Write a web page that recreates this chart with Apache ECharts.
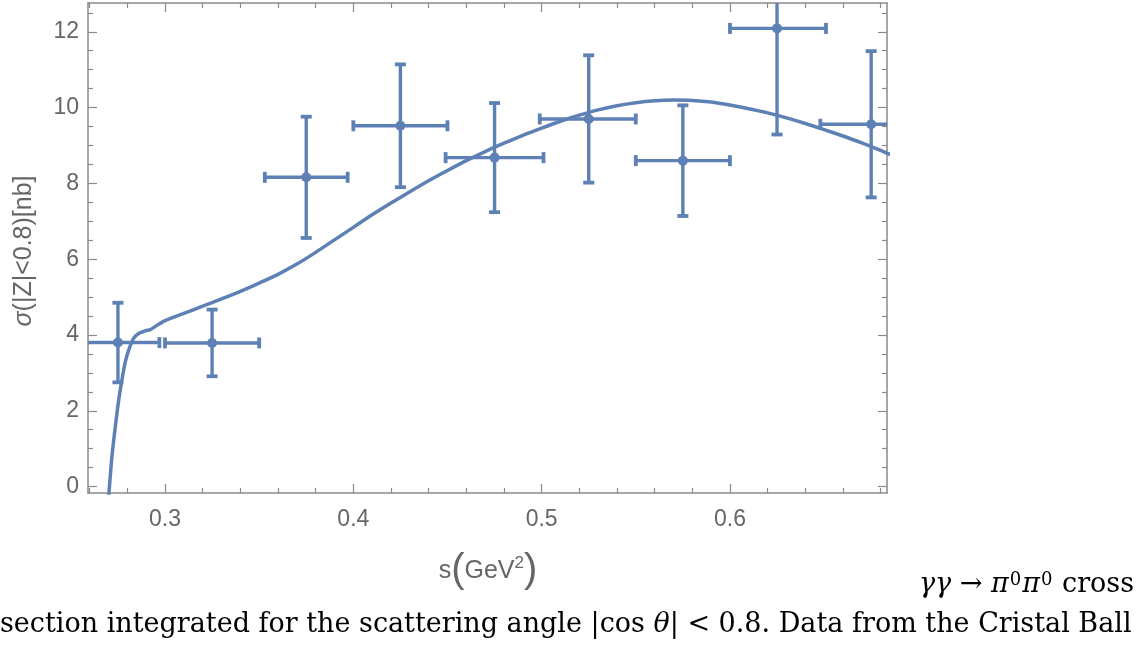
<!DOCTYPE html>
<html>
<head>
<meta charset="utf-8">
<script src="https://cdn.jsdelivr.net/npm/echarts@6/dist/echarts.min.js"></script>
<style>
html, body { margin: 0; padding: 0; background: #fff; }
#chart { width: 1146px; height: 649px; }
</style>
</head>
<body>
<div id="chart"></div>
<script>
// 实验数据点 (Crystal Ball)
const sValues = [0.275, 0.325, 0.375, 0.425, 0.475, 0.525, 0.575, 0.625, 0.675];
const sigmaValues = [3.80, 3.79, 8.16, 9.52, 8.68, 9.70, 8.60, 12.09, 9.56];
const sigmaErrors = [1.05, 0.88, 1.60, 1.62, 1.44, 1.68, 1.46, 2.80, 1.93];
const sErrLow = [0.025, 0.025, 0.022, 0.025, 0.026, 0.026, 0.025, 0.025, 0.027];
const sErrHigh = [0.022, 0.025, 0.022, 0.025, 0.026, 0.025, 0.025, 0.026, 0.025];

// 理论曲线
const curveS = [0.2695, 0.2702, 0.2718, 0.2736, 0.2754, 0.2771, 0.2789, 0.2807, 0.2833, 0.286,
    0.2895, 0.2922, 0.295, 0.30, 0.31, 0.32, 0.33, 0.34, 0.35, 0.36,
    0.37, 0.38, 0.39, 0.40, 0.41, 0.42, 0.43, 0.44, 0.45, 0.46,
    0.47, 0.48, 0.49, 0.50, 0.51, 0.52, 0.53, 0.54, 0.55, 0.56,
    0.57, 0.58, 0.59, 0.60, 0.61, 0.62, 0.63, 0.64, 0.65, 0.66,
    0.67, 0.68, 0.69];
const curveSigma = [-0.6, -0.18, 0.79, 1.58, 2.28, 2.81, 3.29, 3.60, 3.91, 4.04,
    4.11, 4.14, 4.23, 4.38, 4.57, 4.76, 4.95, 5.15, 5.37, 5.60,
    5.87, 6.18, 6.51, 6.84, 7.17, 7.48, 7.78, 8.07, 8.34, 8.60,
    8.84, 9.06, 9.27, 9.46, 9.64, 9.80, 9.94, 10.05, 10.13, 10.18,
    10.20, 10.19, 10.15, 10.07, 9.97, 9.86, 9.73, 9.58, 9.42, 9.25,
    9.07, 8.87, 8.66];

// 刻度
const xMajorTicks = [0.3, 0.4, 0.5, 0.6];
const xMinorTicks = [0.26, 0.28, 0.32, 0.34, 0.36, 0.38, 0.42, 0.44, 0.46, 0.48,
    0.52, 0.54, 0.56, 0.58, 0.62, 0.64, 0.66, 0.68];
const yMajorTicks = [0, 2, 4, 6, 8, 10, 12];
const yMinorTicks = [0.5, 1, 1.5, 2.5, 3, 3.5, 4.5, 5, 5.5, 6.5, 7, 7.5,
    8.5, 9, 9.5, 10.5, 11, 11.5, 12.5];

const xMin = 0.2591, xMax = 0.6834;
const yMin = -0.17, yMax = 12.76;

const blue = '#5E81B5';
const frameColor = '#8a8a8a';
const labelColor = '#666666';

const chart = echarts.init(document.getElementById('chart'), null, { renderer: 'canvas' });

function makeXAxis(position, ticks, len, showLabel, showLine) {
    return {
        type: 'value', position: position, min: xMin, max: xMax,
        axisLine: { show: showLine, onZero: false, lineStyle: { color: frameColor, width: 1.5 } },
        axisTick: { show: true, inside: true, length: len, customValues: ticks,
            lineStyle: { color: frameColor, width: 1.2 } },
        axisLabel: { show: showLabel, customValues: ticks, margin: 15,
            color: labelColor, fontSize: 23, fontFamily: 'Liberation Sans',
            formatter: v => v.toFixed(1) },
        splitLine: { show: false }
    };
}

function makeYAxis(position, ticks, len, showLabel, showLine) {
    return {
        type: 'value', position: position, min: yMin, max: yMax,
        axisLine: { show: showLine, onZero: false, lineStyle: { color: frameColor, width: 1.5 } },
        axisTick: { show: true, inside: true, length: len, customValues: ticks,
            lineStyle: { color: frameColor, width: 1.2 } },
        axisLabel: { show: showLabel, customValues: ticks, margin: 9,
            color: labelColor, fontSize: 23, fontFamily: 'Liberation Sans',
            formatter: v => String(Math.round(v)) },
        splitLine: { show: false }
    };
}

// 误差棒
function renderErrorBar(params, api) {
    const cs = params.coordSys;
    const left = cs.x, right = cs.x + cs.width, top = cs.y, bottom = cs.y + cs.height;
    const p = api.coord([api.value(0), api.value(1)]);
    const pl = api.coord([api.value(2), api.value(1)])[0];
    const pr = api.coord([api.value(3), api.value(1)])[0];
    const pb = api.coord([api.value(0), api.value(4)])[1];
    const pt = api.coord([api.value(0), api.value(5)])[1];
    const lineStyle = { stroke: blue, lineWidth: 3.4 };
    const fillStyle = { fill: blue };
    const children = [];
    children.push({ type: 'line', shape: { x1: Math.max(pl, left), y1: p[1], x2: Math.min(pr, right), y2: p[1] }, style: lineStyle });
    children.push({ type: 'line', shape: { x1: p[0], y1: Math.max(pt, top - 3), x2: p[0], y2: Math.min(pb, bottom) }, style: lineStyle });
    if (pl >= left) children.push({ type: 'rect', shape: { x: pl - 1.9, y: p[1] - 5.5, width: 3.8, height: 11 }, style: fillStyle });
    if (pr <= right) children.push({ type: 'rect', shape: { x: pr - 1.9, y: p[1] - 5.5, width: 3.8, height: 11 }, style: fillStyle });
    if (pt >= top) children.push({ type: 'rect', shape: { x: p[0] - 5.5, y: pt - 1.9, width: 11, height: 3.8 }, style: fillStyle });
    if (pb <= bottom) children.push({ type: 'rect', shape: { x: p[0] - 5.5, y: pb - 1.9, width: 11, height: 3.8 }, style: fillStyle });
    children.push({ type: 'circle', shape: { cx: p[0], cy: p[1], r: 5 }, style: fillStyle });
    return { type: 'group', children: children };
}

const errorData = sValues.map((s, i) => [
    s, sigmaValues[i], s - sErrLow[i], s + sErrHigh[i],
    sigmaValues[i] - sigmaErrors[i], sigmaValues[i] + sigmaErrors[i]
]);
const curveData = curveS.map((s, i) => [s, curveSigma[i]]);

const captionFont = 'DejaVu Serif';
const captionSize = 27;

const option = {
    backgroundColor: '#ffffff',
    animation: false,
    grid: { left: 88, right: 259, top: 3, bottom: 156, containLabel: false },
    xAxis: [
        makeXAxis('bottom', xMajorTicks, 9, true, true),
        makeXAxis('bottom', xMinorTicks, 5, false, false),
        makeXAxis('top', xMajorTicks, 9, false, true),
        makeXAxis('top', xMinorTicks, 5, false, false)
    ],
    yAxis: [
        makeYAxis('left', yMajorTicks, 9, true, true),
        makeYAxis('left', yMinorTicks, 5, false, false),
        makeYAxis('right', yMajorTicks, 9, false, true),
        makeYAxis('right', yMinorTicks, 5, false, false)
    ],
    series: [
        {
            type: 'line',
            data: curveData,
            xAxisIndex: 0, yAxisIndex: 0,
            smooth: 0.25,
            showSymbol: false,
            symbol: 'none',
            clip: true,
            lineStyle: { color: blue, width: 3.5 },
            z: 3
        },
        {
            type: 'custom',
            data: errorData,
            xAxisIndex: 0, yAxisIndex: 0,
            renderItem: renderErrorBar,
            clip: true,
            z: 4
        }
    ],
    graphic: [
        {
            type: 'text', x: 24, y: 251, rotation: Math.PI / 2,
            style: {
                text: '{i|σ}(|Z|<0.8)[nb]',
                fill: labelColor, font: '25px "Liberation Sans"',
                align: 'center', verticalAlign: 'middle',
                rich: { i: { fontStyle: 'italic', fontSize: 25, fontFamily: 'Liberation Sans', fill: labelColor } }
            }
        },
        {
            type: 'text', x: 488, y: 571,
            style: {
                text: '{s|s}{p|(}{g|GeV}{sup|2}{p|)}',
                fill: labelColor, font: '25px "Liberation Sans"',
                align: 'center', verticalAlign: 'middle',
                rich: {
                    s: { fontSize: 25, fontFamily: 'Liberation Sans', fill: labelColor },
                    p: { fontSize: 40, fontFamily: 'Liberation Sans', fill: labelColor },
                    g: { fontSize: 25, fontFamily: 'Liberation Sans', fill: labelColor },
                    sup: { fontSize: 17, fontFamily: 'Liberation Sans', fill: labelColor, verticalAlign: 'top', padding: [4, 0, 0, 0] }
                }
            }
        },
        {
            type: 'text', x: 1134, y: 585,
            style: {
                text: '{m|γγ} → {m|π}{sup|0}{m|π}{sup|0} cross',
                fill: '#000', font: captionSize + 'px "' + captionFont + '"',
                align: 'right', verticalAlign: 'middle',
                rich: {
                    m: { fontStyle: 'italic', fontSize: captionSize, fontFamily: captionFont, fill: '#000' },
                    sup: { fontSize: 18, fontFamily: captionFont, fill: '#000', verticalAlign: 'top', padding: [0, 1, 0, 1] }
                }
            }
        },
        {
            type: 'text', x: 0, y: 625,
            style: {
                text: 'section integrated for the scattering angle |cos {m|θ}| < 0.8. Data from the Cristal Ball',
                fill: '#000', font: captionSize + 'px "' + captionFont + '"',
                align: 'left', verticalAlign: 'middle',
                rich: { m: { fontStyle: 'italic', fontSize: captionSize, fontFamily: captionFont, fill: '#000' } }
            }
        }
    ]
};

chart.setOption(option);

window.addEventListener('resize', function () {
    chart.resize();
});
</script>
</body>
</html>
